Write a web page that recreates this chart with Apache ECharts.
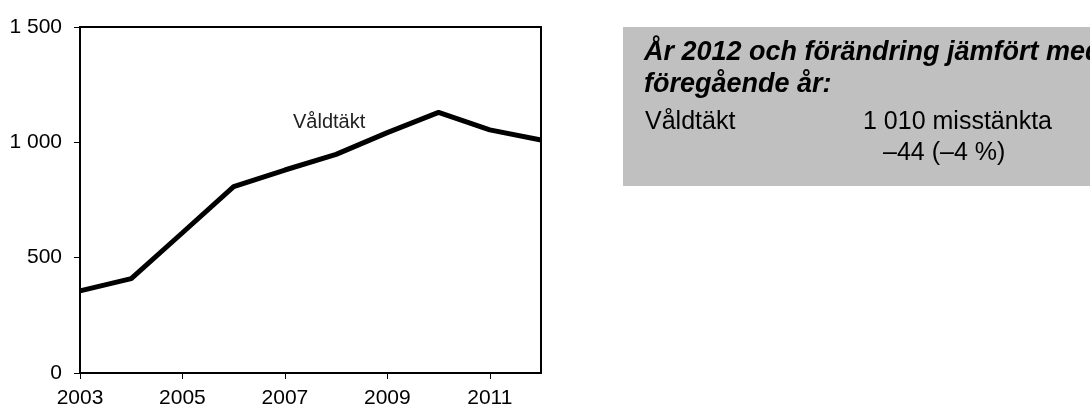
<!DOCTYPE html>
<html>
<head>
<meta charset="utf-8">
<script src="https://cdn.jsdelivr.net/npm/echarts@6/dist/echarts.min.js"></script>
<style>
html,body{margin:0;padding:0;background:#fff;}
#c{width:1090px;height:409px;}
</style>
</head>
<body>
<div id="c"></div>
<script>
const years = ['2003','2004','2005','2006','2007','2008','2009','2010','2011','2012'];
const valdtakt = [356, 409, 608, 808, 880, 948, 1042, 1130, 1054, 1010];
const yTicks = [0, 500, 1000, 1500];
const seriesName = 'Våldtäkt';
const boxTitle = ['År 2012 och förändring jämfört med', 'föregående år:'];
const boxRow1 = ['Våldtäkt', '1 010 misstänkta'];
const boxRow2 = '–44 (–4 %)';

const fmt = v => String(v).replace(/\B(?=(\d{3})+(?!\d))/g, ' ');
const font = '"Liberation Sans", Arial, sans-serif';

const chart = echarts.init(document.getElementById('c'));
chart.setOption({
  animation: false,
  grid: {left: 80, right: 549, top: 27, bottom: 34, show: true, borderColor: '#000', borderWidth: 2},
  xAxis: {
    type: 'category', data: years, boundaryGap: false,
    axisLine: {lineStyle: {color: '#000', width: 2}},
    axisTick: {interval: 1, length: 6, lineStyle: {color: '#000', width: 1}},
    axisLabel: {interval: 1, color: '#000', fontSize: 21, fontFamily: font, margin: 15},
    splitLine: {show: false}
  },
  yAxis: {
    type: 'value', min: yTicks[0], max: yTicks[yTicks.length - 1], interval: 500,
    axisLine: {show: true, lineStyle: {color: '#000', width: 2}},
    axisTick: {show: true, length: 6, lineStyle: {color: '#000', width: 1}},
    axisLabel: {color: '#000', fontSize: 21, fontFamily: font, margin: 18, formatter: fmt},
    splitLine: {show: false}
  },
  series: [{
    name: seriesName, type: 'line', data: valdtakt, symbol: 'none',
    lineStyle: {color: '#000', width: 5}
  }],
  graphic: [
    {type: 'text', x: 293, y: 122, style: {text: seriesName, fill: '#222', font: '20px ' + font, verticalAlign: 'middle'}},
    {type: 'rect', shape: {x: 623, y: 27, width: 470, height: 159}, style: {fill: '#c0c0c0'}, z: -1},
    {type: 'text', x: 644, y: 53, style: {text: boxTitle[0], fill: '#000', font: 'italic bold 27px ' + font, verticalAlign: 'middle'}},
    {type: 'text', x: 644, y: 85, style: {text: boxTitle[1], fill: '#000', font: 'italic bold 27px ' + font, verticalAlign: 'middle'}},
    {type: 'text', x: 645, y: 122, style: {text: boxRow1[0], fill: '#000', font: '25px ' + font, verticalAlign: 'middle'}},
    {type: 'text', x: 863, y: 122, style: {text: boxRow1[1], fill: '#000', font: '25px ' + font, verticalAlign: 'middle'}},
    {type: 'text', x: 883, y: 153, style: {text: boxRow2, fill: '#000', font: '25px ' + font, verticalAlign: 'middle'}}
  ]
});
</script>
</body>
</html>
